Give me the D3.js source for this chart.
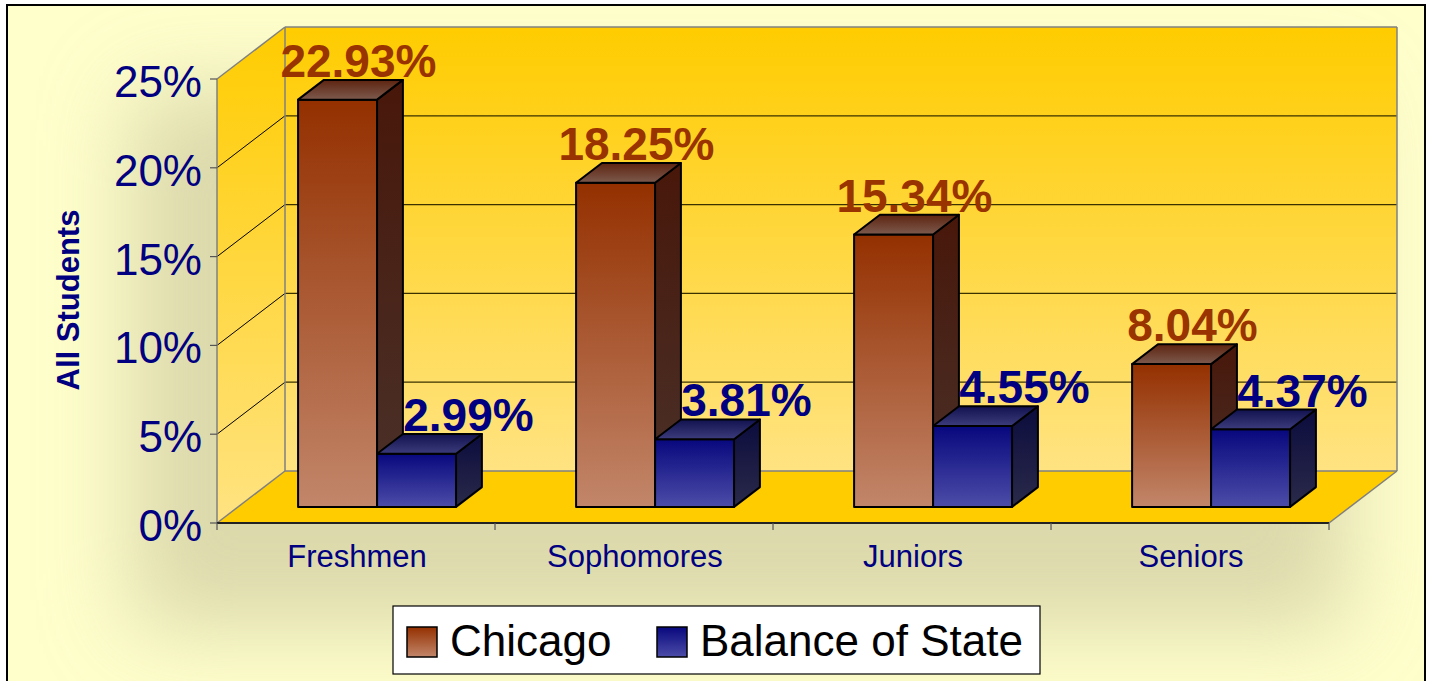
<!DOCTYPE html>
<head>
	<meta charset="utf-8">
	<title>All Students - Chicago vs Balance of State</title>
	<script src="https://d3js.org/d3.v7.min.js"></script>
	<style>
		body { margin: 0; background: #fff; }
		text { font-family: "Liberation Sans", Arial, sans-serif; }
	</style>
</head>

<body>
<div id="viz"></div>

<script>
// chart values
var categories = ["Freshmen", "Sophomores", "Juniors", "Seniors"];
var series = ["Chicago", "Balance of State"];
var chicago = [22.93, 18.25, 15.34, 8.04];
var balance = [2.99, 3.81, 4.55, 4.37];
var yTicks = [0, 5, 10, 15, 20, 25];
var yTickLabels = ["0%", "5%", "10%", "15%", "20%", "25%"];

var values = [chicago, balance];

var width = 1430, height = 681;

var svg = d3.select("#viz")
    .append("svg")
    .attr("width", width)
    .attr("height", height);

var defs = svg.append("defs");

// vertical gradient helper
function grad(id, top, bottom) {
  var g = defs.append("linearGradient")
      .attr("id", id)
      .attr("x1", 0).attr("y1", 0)
      .attr("x2", 0).attr("y2", 1);
  g.append("stop").attr("offset", "0%").attr("stop-color", top);
  g.append("stop").attr("offset", "100%").attr("stop-color", bottom);
}
grad("wall", "#FFCC00", "#FFE382");
grad("front0", "#943000", "#C2866A");
grad("side0", "#48170A", "#4A322A");
grad("top0", "#5E2410", "#7C5A4E");
grad("front1", "#08087E", "#4C4CA8");
grad("side1", "#0C0C3E", "#2A2A4A");
grad("top1", "#121250", "#3C3C7C");

// soft shadow behind the plot
var blur = defs.append("filter").attr("id", "shadow")
    .attr("x", "-30%").attr("y", "-30%").attr("width", "160%").attr("height", "160%");
blur.append("feGaussianBlur").attr("stdDeviation", 45);

// chart area
svg.append("rect")
    .attr("x", 7).attr("y", 5)
    .attr("width", 1418).attr("height", 700)
    .style("fill", "#FFFFCC")
    .style("stroke", "#000")
    .style("stroke-width", 2);

svg.append("rect")
    .attr("x", 130).attr("y", 90)
    .attr("width", 1220).attr("height", 540)
    .style("fill", "#C4C096")
    .style("opacity", 0.6)
    .attr("filter", "url(#shadow)");

// scales: front plane of the plot, depth goes up/right
var y = d3.scaleLinear().domain([0, 25]).range([523, 79]);
var x0 = d3.scaleBand().domain(categories).range([217, 1329])
    .paddingInner(0.4317).paddingOuter(0.2158);
var x1 = d3.scaleBand().domain(series).range([0, x0.bandwidth()]);
var depth = {dx: 68, dy: -52};
var barDepth = [0.31, 0.69];

function P(x, v, t) { return [x + depth.dx * t, y(v) + depth.dy * t]; }
function pts(arr) { return arr.map(function(p) { return p.join(","); }).join(" "); }

var xl = x0.range()[0], xr = x0.range()[1];
var ymax = y.domain()[1];

var plot = svg.append("g");

// walls and floor
plot.append("polygon")
    .attr("points", pts([P(xl, 0, 1), P(xr, 0, 1), P(xr, ymax, 1), P(xl, ymax, 1)]))
    .style("fill", "url(#wall)");
plot.append("polygon")
    .attr("points", pts([P(xl, 0, 0), P(xl, 0, 1), P(xl, ymax, 1), P(xl, ymax, 0)]))
    .style("fill", "url(#wall)");
plot.append("polygon")
    .attr("points", pts([P(xl, 0, 0), P(xr, 0, 0), P(xr, 0, 1), P(xl, 0, 1)]))
    .style("fill", "#FFCC00");

// gridlines on back wall and side wall
var inner = yTicks.filter(function(d) { return d > 0 && d < ymax; });
plot.selectAll(".grid-back").data(inner).enter().append("line")
    .attr("x1", function(d) { return P(xl, d, 1)[0]; })
    .attr("y1", function(d) { return P(xl, d, 1)[1]; })
    .attr("x2", function(d) { return P(xr, d, 1)[0]; })
    .attr("y2", function(d) { return P(xr, d, 1)[1]; })
    .style("stroke", "#3a3000").style("stroke-width", 1.2);
plot.selectAll(".grid-side").data(inner).enter().append("line")
    .attr("x1", function(d) { return P(xl, d, 0)[0]; })
    .attr("y1", function(d) { return P(xl, d, 0)[1]; })
    .attr("x2", function(d) { return P(xl, d, 1)[0]; })
    .attr("y2", function(d) { return P(xl, d, 1)[1]; })
    .style("stroke", "#000").style("stroke-width", 1);

// grey wall edges
var edges = [
  [P(xl, ymax, 0), P(xl, ymax, 1)],
  [P(xl, ymax, 1), P(xr, ymax, 1)],
  [P(xr, ymax, 1), P(xr, 0, 1)],
  [P(xl, ymax, 1), P(xl, 0, 1)],
  [P(xl, 0, 1), P(xr, 0, 1)],
  [P(xl, 0, 0), P(xl, 0, 1)],
  [P(xr, 0, 0), P(xr, 0, 1)],
  [P(xl, ymax, 0), P(xl, 0, 0)]
];
plot.selectAll(".edge").data(edges).enter().append("line")
    .attr("x1", function(d) { return d[0][0]; })
    .attr("y1", function(d) { return d[0][1]; })
    .attr("x2", function(d) { return d[1][0]; })
    .attr("y2", function(d) { return d[1][1]; })
    .style("stroke", "#808080").style("stroke-width", 1.5);

// front edge of the floor
plot.append("line")
    .attr("x1", xl).attr("y1", y(0)).attr("x2", xr).attr("y2", y(0))
    .style("stroke", "#222").style("stroke-width", 2);

// value axis ticks and labels
plot.selectAll(".ytick").data(yTicks).enter().append("line")
    .attr("x1", xl - 7).attr("x2", xl)
    .attr("y1", function(d) { return y(d); })
    .attr("y2", function(d) { return y(d); })
    .style("stroke", "#555").style("stroke-width", 1.2);
plot.selectAll(".ylab").data(yTicks).enter().append("text")
    .attr("x", 202)
    .attr("y", function(d) { return y(d) + 18; })
    .attr("text-anchor", "end")
    .style("font-size", "44px")
    .style("fill", "#000080")
    .text(function(d, i) { return yTickLabels[i]; });

// category ticks and labels
var catTicks = categories.map(function(c) { return x0(c) - x0.step() * x0.paddingOuter(); }).concat([xr]);
plot.selectAll(".xtick").data(catTicks).enter().append("line")
    .attr("x1", function(d) { return d; }).attr("x2", function(d) { return d; })
    .attr("y1", y(0)).attr("y2", y(0) + 7)
    .style("stroke", "#555").style("stroke-width", 1.2);
plot.selectAll(".xlab").data(categories).enter().append("text")
    .attr("x", function(d) { return x0(d) + x0.bandwidth() / 2 + 1; })
    .attr("y", 567)
    .attr("text-anchor", "middle")
    .style("font-size", "31px")
    .style("fill", "#000080")
    .text(function(d) { return d; });

// axis title
svg.append("text")
    .attr("transform", "translate(79,300) rotate(-90)")
    .attr("text-anchor", "middle")
    .style("font-size", "31px")
    .style("font-weight", "bold")
    .style("fill", "#000080")
    .text("All Students");

// bars, left to right so each one covers the side of the one before
var t1 = barDepth[0], t2 = barDepth[1];
var bars = [];
categories.forEach(function(c, i) {
  series.forEach(function(s, j) {
    bars.push({cat: c, s: s, j: j, v: values[j][i]});
  });
});

var bar = plot.selectAll(".bar").data(bars).enter().append("g");
bar.each(function(d) {
  var g = d3.select(this);
  var xa = x0(d.cat) + x1(d.s), xb = xa + x1.bandwidth(), v = d.v;
  var faces = [
    {f: "front", p: [P(xa, 0, t1), P(xb, 0, t1), P(xb, v, t1), P(xa, v, t1)]},
    {f: "side", p: [P(xb, 0, t1), P(xb, 0, t2), P(xb, v, t2), P(xb, v, t1)]},
    {f: "top", p: [P(xa, v, t1), P(xb, v, t1), P(xb, v, t2), P(xa, v, t2)]}
  ];
  faces.forEach(function(fc) {
    g.append("polygon")
        .attr("points", pts(fc.p))
        .style("fill", "url(#" + fc.f + d.j + ")")
        .style("stroke", "#000")
        .style("stroke-width", 2)
        .style("stroke-linejoin", "round");
  });
});

// value labels, sit on the back edge of each bar top
var labelShift = [-5, 26];
var labelColor = ["#993300", "#000080"];
plot.selectAll(".vlab").data(bars).enter().append("text")
    .attr("x", function(d) {
      var xa = x0(d.cat) + x1(d.s);
      return xa + x1.bandwidth() / 2 + depth.dx * t2 + labelShift[d.j];
    })
    .attr("y", function(d) { return P(0, d.v, t2)[1] - 3; })
    .attr("text-anchor", "middle")
    .style("font-size", "46px")
    .style("font-weight", "bold")
    .style("fill", function(d) { return labelColor[d.j]; })
    .text(function(d) { return d.v.toFixed(2) + "%"; });

// legend
var legend = svg.append("g");
legend.append("rect")
    .attr("x", 393).attr("y", 606)
    .attr("width", 647).attr("height", 68)
    .style("fill", "#fff")
    .style("stroke", "#000")
    .style("stroke-width", 1.2);
var legX = [407, 657];
var item = legend.selectAll(".item").data(series).enter().append("g")
    .attr("transform", function(d, i) { return "translate(" + legX[i] + ",627)"; });
item.append("rect")
    .attr("width", 30).attr("height", 30)
    .style("fill", function(d, i) { return "url(#front" + i + ")"; })
    .style("stroke", "#000")
    .style("stroke-width", 1.5);
item.append("text")
    .attr("x", 43).attr("y", 29)
    .style("font-size", "44px")
    .style("fill", "#000")
    .text(function(d) { return d; });
</script>
</body>
</html>
